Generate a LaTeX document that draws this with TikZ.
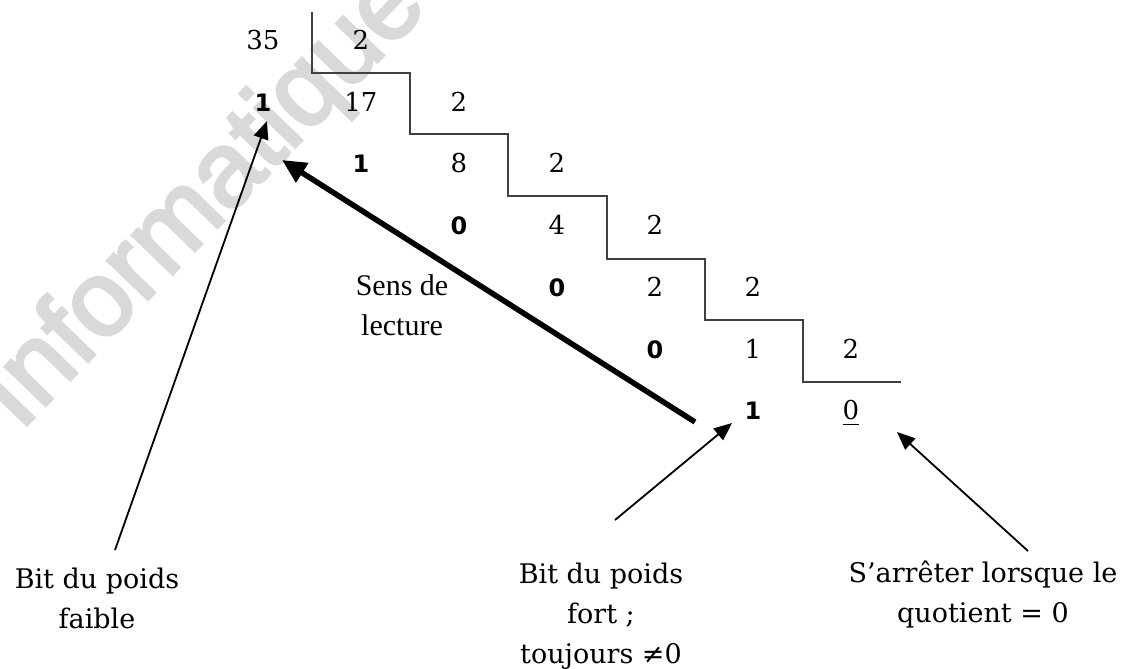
\documentclass[tikz,border=0pt]{standalone}
\usepackage{fontspec}
\setmainfont{DejaVu Serif}
\newfontfamily\bitfont{DejaVu Sans}
\newfontfamily\timesfont{Liberation Serif}
\newfontfamily\markfont[FakeBold=3]{Liberation Sans}
\usetikzlibrary{arrows.meta}
\begin{document}
\begin{tikzpicture}[x=1pt,y=-1pt,
  num/.style={font=\fontsize{26}{30}\selectfont, inner sep=0pt, anchor=base},
  bit/.style={font=\bitfont\bfseries\fontsize{24}{28}\selectfont, inner sep=0pt, anchor=base},
  note/.style={font=\fontsize{27}{40}\selectfont, align=center, inner sep=0pt, anchor=base},
  stair/.style={draw=black!75, line width=1.3pt},
  pointer/.style={draw=black, line width=1.8pt, -{Triangle[length=18pt,width=15pt]}},
  reading/.style={draw=black, line width=5.5pt, -{Triangle[length=24pt,width=22pt]}}
]
\useasboundingbox (0,0) rectangle (1128,669);

% faint background word
\node[rotate=46, anchor=base west, inner sep=0pt, text=black!15,
      font=\markfont\fontsize{106}{106}\selectfont] (wm) at (20,432) {Informatique};

% successive divisions by 2
\node[num] (n35) at (263,49.5) {35};
\node[num] (d0)  at (361,49.5) {2};

\node[bit] (b1)  at (263,111.2) {1};
\node[num] (n17) at (361,111.2) {17};
\node[num] (d1)  at (459,111.2) {2};

\node[bit] (b2)  at (361,172.9) {1};
\node[num] (n8)  at (459,172.9) {8};
\node[num] (d2)  at (557,172.9) {2};

\node[bit] (b3)  at (459,234.6) {0};
\node[num] (n4)  at (557,234.6) {4};
\node[num] (d3)  at (655,234.6) {2};

\node[bit] (b4)  at (557,296.3) {0};
\node[num] (n2)  at (655,296.3) {2};
\node[num] (d4)  at (753,296.3) {2};

\node[bit] (b5)  at (655,358) {0};
\node[num] (n1)  at (753,358) {1};
\node[num] (d5)  at (851,358) {2};

\node[bit] (b6)  at (753,419.7) {1};
\node[num] (n0)  at (851,419.7) {0};
\draw[line width=1.1pt] ([yshift=-5pt]n0.base west) -- ([yshift=-5pt]n0.base east);

% staircase separating dividends, divisors and quotients
\draw[stair] (312,12) -- (312,73) -- (410,73) -- (410,134) -- (508,134)
  -- (508,196) -- (607,196) -- (607,259) -- (705,259) -- (705,320)
  -- (803,320) -- (803,382) -- (901,382);

% annotations (anchored on the baseline of their last line)
\node[note] (low)  at (97,628)  {Bit du poids\\faible};
\node[note] (high) at (601,663) {Bit du poids\\fort ;\\toujours ≠0};
\node[note] (stop) at (983,622) {S’arrêter lorsque le\\quotient = 0};
\node[inner sep=0pt, anchor=base, align=center,
      font=\timesfont\fontsize{30}{40}\selectfont] (sens) at (402,335) {Sens de\\lecture};

% arrow ends
\coordinate (readfrom) at (695,422);
\coordinate (readto)   at (282,160);
\coordinate (lowtail)  at (115,550);
\coordinate (lowtip)   at (267,121);
\coordinate (hightail) at (615,520);
\coordinate (hightip)  at (732,423);
\coordinate (stoptail) at (1028,551);
\coordinate (stoptip)  at (897,432);

\draw[reading] (readfrom) -- (readto);
\draw[pointer] (lowtail) -- (lowtip);
\draw[pointer] (hightail) -- (hightip);
\draw[pointer] (stoptail) -- (stoptip);
\end{tikzpicture}
\end{document}
